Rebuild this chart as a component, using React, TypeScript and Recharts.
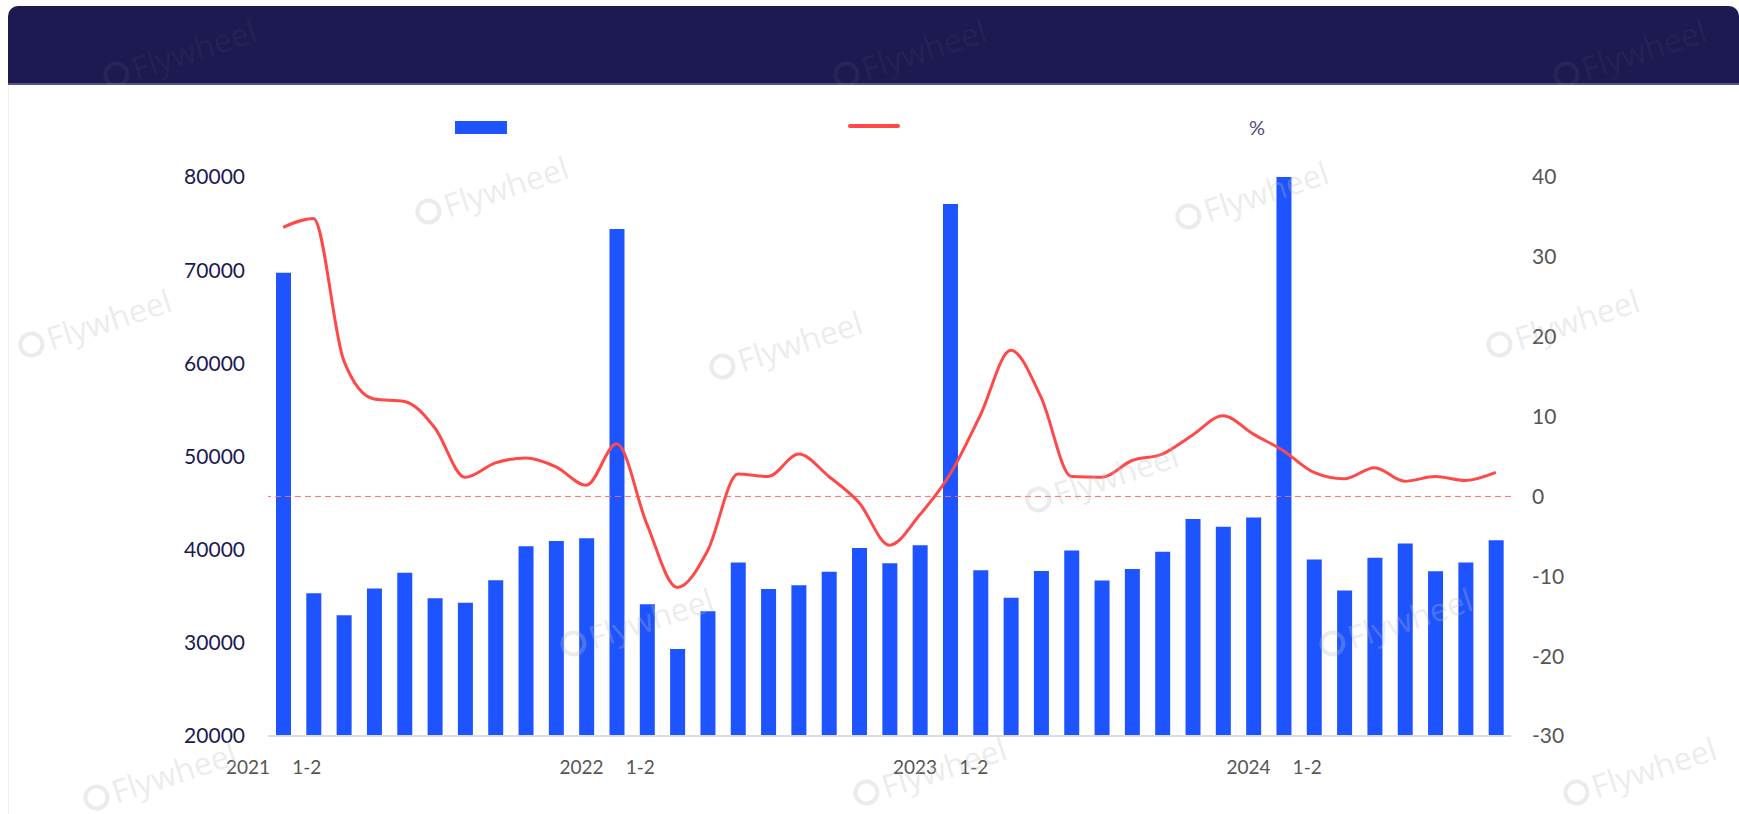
import React from "react";
import {
  ComposedChart,
  Bar,
  Line,
  XAxis,
  YAxis,
  ReferenceLine,
} from "recharts";

// periods: year + month range (only the "1-2" ones get a label)
const periods = [
  "2021 1-2", "2021 3", "2021 4", "2021 5", "2021 6", "2021 7", "2021 8", "2021 9", "2021 10", "2021 11", "2021 12",
  "2022 1-2", "2022 3", "2022 4", "2022 5", "2022 6", "2022 7", "2022 8", "2022 9", "2022 10", "2022 11", "2022 12",
  "2023 1-2", "2023 3", "2023 4", "2023 5", "2023 6", "2023 7", "2023 8", "2023 9", "2023 10", "2023 11", "2023 12",
  "2024 1-2", "2024 3", "2024 4", "2024 5", "2024 6", "2024 7", "2024 8", "2024 9",
];

const output = [
  69730, 35330, 32950, 35820, 37510, 34790, 34300, 36730, 40360, 40930, 41220,
  74420, 34130, 29350, 33390, 38620, 35780, 36190, 37630, 40190, 38540, 40480,
  77100, 37800, 34830, 37710, 39900, 36680, 37920, 39770, 43280, 42450, 43440,
  80000, 38950, 35610, 39120, 40650, 37680, 38620, 41010,
];

const growth = [
  33.7, 34.8, 17.0, 12.2, 11.9, 8.6, 2.4, 4.2, 4.8, 3.7, 1.4,
  6.6, -3.5, -11.4, -6.8, 2.8, 2.5, 5.3, 2.5, -0.8, -6.1, -2.3,
  2.8, 10.2, 18.3, 12.4, 2.5, 2.4, 4.5, 5.3, 7.7, 10.1, 7.8,
  5.7, 3.0, 2.2, 3.6, 1.9, 2.5, 2.0, 3.0,
];

const leftTicks = [20000, 30000, 40000, 50000, 60000, 70000, 80000];
const rightTicks = [-30, -20, -10, 0, 10, 20, 30, 40];

const data = periods.map((p, i) => ({ period: p, output: output[i], growth: growth[i] }));

// watermark spots; the first three sit on the dark header
const watermarks = [
  [170, 52], [900, 52], [1620, 52], [482, 189], [1242, 194], [85, 322],
  [776, 344], [1553, 322], [1092, 477], [627, 621], [1386, 621],
  [150, 775], [920, 770], [1630, 770],
];

const PeriodTick = (props: any) => {
  const { x, y, payload } = props;
  const [year, month] = String(payload.value).split(" ");
  if (month !== "1-2") return null;
  return (
    <g>
      <text x={x - 13} y={y + 22} textAnchor="end" dominantBaseline="central" fill="#555" fontSize={19}>
        {year}
      </text>
      <text x={x + 9} y={y + 22} textAnchor="start" dominantBaseline="central" fill="#555" fontSize={19}>
        {month}
      </text>
    </g>
  );
};

export default function App() {
  return (
    <div
      style={{
        position: "fixed",
        left: 0,
        top: 0,
        width: 1739,
        height: 814,
        background: "#fff",
        overflow: "hidden",
        fontFamily: "Lato, 'Open Sans', sans-serif",
      }}
    >
      {/* header band */}
      <div
        style={{
          position: "absolute",
          left: 8,
          top: 6,
          width: 1731,
          height: 77,
          background: "#1c1a50",
          borderTopLeftRadius: 10,
          borderTopRightRadius: 10,
          borderBottom: "2px solid #55548a",
        }}
      />
      <div style={{ position: "absolute", left: 8, top: 85, width: 1, height: 729, background: "#eeeeee" }} />

      {/* legend */}
      <div style={{ position: "absolute", left: 455, top: 121, width: 52, height: 13, background: "#1e54ff" }} />
      <div style={{ position: "absolute", left: 848, top: 124, width: 52, height: 4, borderRadius: 2, background: "#ff4848" }} />
      <div style={{ position: "absolute", left: 1249, top: 115, fontSize: 20, color: "#4e4c7c" }}>%</div>

      <div style={{ position: "absolute", left: 0, top: 0 }}>
        <ComposedChart
          width={1739}
          height={814}
          data={data}
          margin={{ top: 177, right: 128, bottom: 38, left: 0 }}
          barCategoryGap={0}
        >
          <XAxis
            dataKey="period"
            interval={0}
            axisLine={{ stroke: "#dcdcdc", strokeWidth: 2 }}
            tickLine={false}
            tick={<PeriodTick />}
            height={40}
          />
          <YAxis
            yAxisId="left"
            orientation="left"
            width={268}
            domain={[20000, 80000]}
            ticks={leftTicks}
            axisLine={false}
            tickLine={false}
            tickMargin={17}
            tick={{ fill: "#1b1a50", fontSize: 21 }}
          />
          <YAxis
            yAxisId="right"
            orientation="right"
            width={100}
            domain={[-30, 40]}
            ticks={rightTicks}
            axisLine={false}
            tickLine={false}
            tickMargin={15}
            tick={{ fill: "#555", fontSize: 21 }}
          />
          <ReferenceLine
            yAxisId="right"
            y={0}
            stroke="#ff6b6b"
            strokeDasharray="6 4"
            strokeWidth={1}
            segment={[{ x: periods[0], y: 0 }, { x: periods[periods.length - 1], y: 0 }]}
          />
          <Bar yAxisId="left" dataKey="output" fill="#1e54ff" barSize={15} isAnimationActive={false} />
          <Line
            yAxisId="right"
            dataKey="growth"
            type="monotone"
            stroke="#ff4848"
            strokeWidth={3}
            dot={false}
            activeDot={false}
            isAnimationActive={false}
          />
        </ComposedChart>
      </div>

      {/* watermarks */}
      {watermarks.map(([wx, wy], i) => {
        const onHeader = i < 3;
        const c = onHeader ? "rgba(255,255,255,0.05)" : "rgba(190,190,190,0.3)";
        return (
          <div
            key={i}
            style={{
              position: "absolute",
              left: wx - 70,
              top: wy - 20,
              transform: "rotate(-18deg)",
              color: c,
              fontSize: 32,
              fontFamily: "'Open Sans', sans-serif",
              pointerEvents: "none",
              whiteSpace: "nowrap",
              display: "flex",
              alignItems: "center",
              gap: 4,
            }}
          >
            <span
              style={{
                display: "inline-block",
                width: 26,
                height: 26,
                borderRadius: 13,
                border: `4px solid ${c}`,
                boxSizing: "border-box",
              }}
            />
            Flywheel
          </div>
        );
      })}
    </div>
  );
}
